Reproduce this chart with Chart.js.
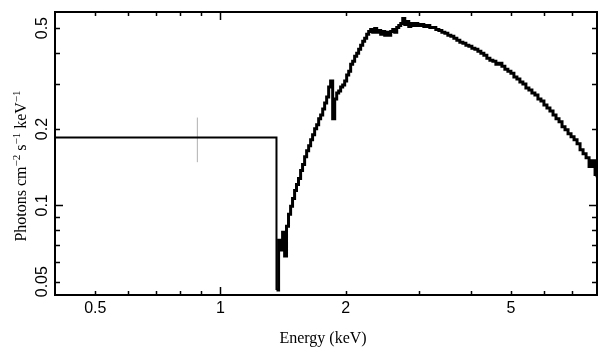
<!DOCTYPE html>
<html><head><meta charset="utf-8">
<script src="https://cdn.jsdelivr.net/npm/chart.js@4"></script>
<style>html,body{margin:0;padding:0;background:#fff}#wrap{width:609px;height:357px}</style>
</head><body><div id="wrap"><canvas id="c" width="609" height="357"></canvas></div>
<script>
// Bin left edges (keV) and flux (photons cm^-2 s^-1 keV^-1); last entry is the right edge
const energy = [
 0.4, 1.364, 1.380, 1.395, 1.411, 1.427, 1.442, 1.458, 1.475, 1.491,
 1.508, 1.524, 1.541, 1.559, 1.576, 1.594, 1.612, 1.630, 1.648, 1.666,
 1.685, 1.704, 1.723, 1.742, 1.762, 1.781, 1.801, 1.821, 1.841, 1.862,
 1.883, 1.904, 1.925, 1.946, 1.968, 1.990, 2.012, 2.035, 2.057, 2.080,
 2.103, 2.127, 2.150, 2.174, 2.199, 2.223, 2.248, 2.273, 2.298, 2.324,
 2.350, 2.376, 2.403, 2.429, 2.457, 2.484, 2.512, 2.540, 2.568, 2.597,
 2.626, 2.655, 2.685, 2.715, 2.745, 2.776, 2.807, 2.838, 2.870, 2.902,
 2.935, 2.984, 3.034, 3.085, 3.136, 3.189, 3.243, 3.297, 3.353, 3.409,
 3.466, 3.524, 3.583, 3.643, 3.704, 3.766, 3.830, 3.894, 3.959, 4.026,
 4.093, 4.162, 4.231, 4.302, 4.374, 4.448, 4.522, 4.598, 4.675, 4.754,
 4.833, 4.914, 4.997, 5.081, 5.166, 5.252, 5.340, 5.430, 5.521, 5.614,
 5.708, 5.804, 5.901, 6.000, 6.101, 6.203, 6.310, 6.415, 6.523, 6.632,
 6.743, 6.857, 6.972, 7.089, 7.208, 7.329, 7.452, 7.577, 7.704, 7.833,
 7.964, 8.05
];
const flux = [
 0.185, 0.0464, 0.0729, 0.0666, 0.0784, 0.0631, 0.0827, 0.0922, 0.0991, 0.1065,
 0.1145, 0.1209, 0.1276, 0.1371, 0.1448, 0.1556, 0.1643, 0.1719, 0.1815, 0.1899,
 0.2005, 0.2078, 0.2194, 0.2274, 0.2401, 0.2535, 0.2676, 0.2929, 0.3092, 0.2194,
 0.2628, 0.2775, 0.2825, 0.2929, 0.2982, 0.3092, 0.3264, 0.3384, 0.3606, 0.3705,
 0.3876, 0.3981, 0.4128, 0.4279, 0.4437, 0.4558, 0.4726, 0.4855, 0.4944, 0.4812,
 0.4989, 0.4812, 0.4900, 0.4726, 0.4855, 0.4683, 0.4812, 0.4683, 0.4855, 0.4944,
 0.4812, 0.5035, 0.5126, 0.5219, 0.5461, 0.5172, 0.5314, 0.5080, 0.5219, 0.5126,
 0.5219, 0.5126, 0.5172, 0.5080, 0.5126, 0.5035, 0.5035, 0.4944, 0.4900, 0.4812,
 0.4769, 0.4683, 0.4642, 0.4558, 0.4477, 0.4397, 0.4357, 0.4279, 0.4241, 0.4165,
 0.4128, 0.4054, 0.3981, 0.3911, 0.3806, 0.3738, 0.3705, 0.3606, 0.3638, 0.3540,
 0.3445, 0.3384, 0.3323, 0.3205, 0.3148, 0.3064, 0.3009, 0.2902, 0.2850, 0.2775,
 0.2725, 0.2628, 0.2581, 0.2489, 0.2423, 0.2358, 0.2274, 0.2194, 0.2135, 0.2041,
 0.1986, 0.1916, 0.1865, 0.1815, 0.1751, 0.1658, 0.1599, 0.1542, 0.1422, 0.1501,
 0.1323, 0.129
];
// Visible error bar on the wide low-energy bin
const errEnergy = [0.88];
const errLow = [0.148];
const errHigh = [0.222];

// Axis ticks
const xTickValues = [0.5, 0.6, 0.7, 0.8, 0.9, 1, 2, 3, 4, 5, 6, 7];
const xMajorTicks = [1];
const xLabelValues = [0.5, 1, 2, 5];
const xTickLabels = ['0.5', '1', '2', '5'];
const yTickValues = [0.05, 0.06, 0.07, 0.08, 0.09, 0.1, 0.2, 0.3, 0.4, 0.5];
const yMajorTicks = [0.1];
const yLabelValues = [0.05, 0.1, 0.2, 0.5];
const yTickLabels = ['0.05', '0.1', '0.2', '0.5'];
const xTitle = 'Energy (keV)';
const yTitleParts = [['Photons cm', false], ['\u22122', true], [' s', false], ['\u22121', true], [' keV', false], ['\u22121', true]];

const pts = (a, b) => energy.slice(a, b).map((e, i) => ({x: e, y: flux[a + i]}));
const errPts = [];
errEnergy.forEach((e, i) => { errPts.push({x: e, y: errLow[i]}, {x: e, y: errHigh[i]}, {x: NaN, y: NaN}); });

const frame = {
  id: 'frame',
  afterDraw(chart) {
    const ctx = chart.ctx, xs = chart.scales.x, ys = chart.scales.y, a = chart.chartArea;
    ctx.save();
    ctx.strokeStyle = '#000';
    ctx.lineWidth = 2;
    ctx.strokeRect(a.left, a.top, a.right - a.left, a.bottom - a.top);
    ctx.lineWidth = 1.5;
    ctx.beginPath();
    xTickValues.forEach(v => {
      const p = Math.round(xs.getPixelForValue(v)) + 0.5;
      const len = xMajorTicks.includes(v) ? 8 : 4;
      ctx.moveTo(p, a.bottom); ctx.lineTo(p, a.bottom - len);
      ctx.moveTo(p, a.top); ctx.lineTo(p, a.top + len);
    });
    yTickValues.forEach(v => {
      const p = Math.round(ys.getPixelForValue(v)) + 0.5;
      const len = yMajorTicks.includes(v) ? 8 : 5;
      ctx.moveTo(a.left, p); ctx.lineTo(a.left + len, p);
      ctx.moveTo(a.right, p); ctx.lineTo(a.right - len, p);
    });
    ctx.stroke();
    ctx.fillStyle = '#000';
    ctx.font = '16px "Liberation Sans", Arial, sans-serif';
    ctx.textAlign = 'center';
    ctx.textBaseline = 'alphabetic';
    xLabelValues.forEach((v, i) => {
      ctx.fillText(xTickLabels[i], xs.getPixelForValue(v), 313);
    });
    yLabelValues.forEach((v, i) => {
      ctx.save();
      ctx.translate(47, ys.getPixelForValue(v));
      ctx.rotate(-Math.PI / 2);
      ctx.fillText(yTickLabels[i], 0, 0);
      ctx.restore();
    });
    ctx.font = '16px "Liberation Serif", "Times New Roman", serif';
    ctx.fillText(xTitle, 323, 343);
    // y title with superscripts
    ctx.save();
    ctx.translate(26, 166);
    ctx.rotate(-Math.PI / 2);
    ctx.textAlign = 'left';
    const fN = '16px "Liberation Serif", "Times New Roman", serif';
    const fS = '11px "Liberation Serif", "Times New Roman", serif';
    let total = 0;
    yTitleParts.forEach(([t, s]) => { ctx.font = s ? fS : fN; total += ctx.measureText(t).width; });
    let cx = -total / 2;
    yTitleParts.forEach(([t, s]) => {
      ctx.font = s ? fS : fN;
      ctx.fillText(t, cx, s ? -6 : 0);
      cx += ctx.measureText(t).width;
    });
    ctx.restore();
    ctx.restore();
  }
};

new Chart(document.getElementById('c'), {
  type: 'line',
  data: {
    datasets: [
      {data: errPts, borderColor: '#b0b0b0', borderWidth: 1, pointRadius: 0, spanGaps: false, order: 3},
      {data: pts(0, 2), stepped: 'before', borderColor: '#000', borderWidth: 2, pointRadius: 0, order: 2},
      {data: pts(1, energy.length), stepped: 'before', borderColor: '#000', borderWidth: 3, pointRadius: 0, order: 1}
    ]
  },
  options: {
    responsive: false,
    animation: false,
    layout: {padding: {left: 55, right: 12, top: 12, bottom: 62}},
    plugins: {legend: {display: false}, tooltip: {enabled: false}},
    scales: {
      x: {type: 'logarithmic', min: 0.4, max: 8.05, display: false},
      y: {type: 'logarithmic', min: 0.0443, max: 0.579, display: false}
    }
  },
  plugins: [frame]
});
</script>
</body></html>
